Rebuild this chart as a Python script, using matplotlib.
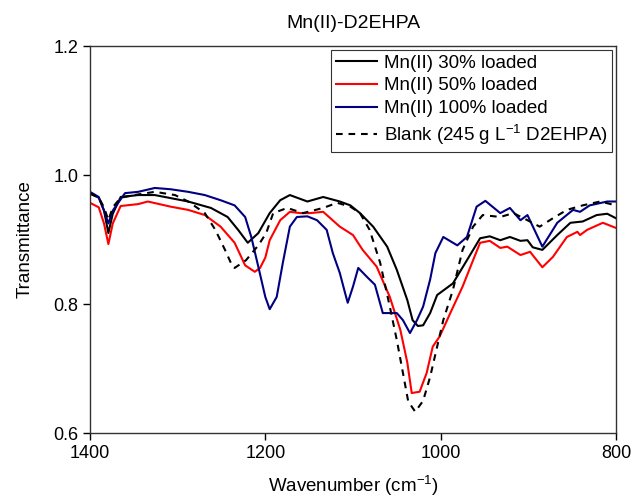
import numpy as np
import matplotlib
matplotlib.use("Agg")
import matplotlib.pyplot as plt

plt.rcParams['font.family'] = ['Liberation Sans', 'DejaVu Sans']
plt.rcParams['mathtext.default'] = 'regular'

# === Spectra (wavenumber in cm-1, transmittance) ===
wn_30 = [1400, 1390, 1384, 1379, 1374, 1365, 1345, 1326, 1288, 1262, 1243, 1231, 1220,
         1208, 1195, 1183, 1172, 1152, 1134, 1115, 1103, 1092, 1077, 1061, 1050, 1038,
         1032, 1026, 1020, 1012, 1004, 986, 970, 955, 944, 932, 921, 909, 901, 895, 884,
         867, 852, 838, 822, 810, 800]
tr_30 = [0.971, 0.965, 0.945, 0.910, 0.940, 0.966, 0.969, 0.969, 0.959, 0.949, 0.935, 0.915, 0.895,
         0.910, 0.941, 0.961, 0.969, 0.959, 0.966, 0.959, 0.953, 0.941, 0.920, 0.889, 0.853, 0.806,
         0.775, 0.766, 0.767, 0.786, 0.814, 0.832, 0.868, 0.902, 0.905, 0.899, 0.904, 0.898, 0.899, 0.888, 0.884,
         0.907, 0.926, 0.928, 0.938, 0.940, 0.933]

wn_50 = [1400, 1390, 1384, 1379, 1374, 1365, 1345, 1334, 1308, 1288, 1269, 1251, 1235, 1223,
         1212, 1206, 1200, 1195, 1183, 1172, 1160, 1149, 1134, 1115, 1100, 1089, 1073, 1058,
         1046, 1038, 1033, 1024, 1016, 1009, 1001, 989, 975, 963, 955, 944, 932, 924, 909,
         898, 884, 872, 856, 844, 841, 833, 815, 800]
tr_50 = [0.957, 0.950, 0.925, 0.893, 0.925, 0.952, 0.955, 0.959, 0.951, 0.946, 0.938, 0.920, 0.895, 0.860,
         0.850, 0.856, 0.872, 0.899, 0.930, 0.943, 0.941, 0.941, 0.943, 0.920, 0.907, 0.884, 0.858, 0.811,
         0.760, 0.709, 0.662, 0.664, 0.693, 0.734, 0.750, 0.786, 0.827, 0.868, 0.895, 0.898, 0.887, 0.889, 0.876,
         0.881, 0.857, 0.873, 0.904, 0.912, 0.907, 0.915, 0.926, 0.918]

wn_100 = [1400, 1390, 1384, 1379, 1374, 1360, 1345, 1326, 1308, 1288, 1269, 1251, 1235, 1223,
          1216, 1208, 1200, 1195, 1187, 1180, 1172, 1164, 1152, 1141, 1130, 1123, 1115, 1109,
          1106, 1100, 1094, 1084, 1075, 1066, 1050, 1043, 1035, 1027, 1020, 1012, 1006, 997,
          981, 970, 959, 949, 932, 921, 909, 901, 884, 867, 849, 841, 830, 810, 800]
tr_100 = [0.974, 0.966, 0.945, 0.925, 0.945, 0.972, 0.974, 0.980, 0.978, 0.974, 0.969, 0.961, 0.953, 0.935,
          0.904, 0.858, 0.811, 0.792, 0.811, 0.864, 0.920, 0.935, 0.936, 0.930, 0.915, 0.879, 0.848, 0.817,
          0.802, 0.827, 0.856, 0.842, 0.830, 0.786, 0.786, 0.775, 0.755, 0.775, 0.796, 0.838, 0.879, 0.904,
          0.891, 0.904, 0.951, 0.960, 0.941, 0.949, 0.930, 0.938, 0.889, 0.926, 0.946, 0.943, 0.953, 0.959, 0.959]

wn_blank = [1400, 1390, 1384, 1379, 1374, 1365, 1345, 1326, 1303, 1288, 1269, 1257, 1246, 1238,
            1235, 1222, 1208, 1199, 1191, 1175, 1157, 1134, 1118, 1103, 1092, 1081, 1069, 1058,
            1050, 1043, 1037, 1029, 1020, 1012, 1004, 997, 986, 975, 963, 952, 932, 917, 901,
            887, 872, 856, 838, 818, 800]
tr_blank = [0.972, 0.965, 0.950, 0.930, 0.950, 0.965, 0.970, 0.974, 0.969, 0.959, 0.941, 0.915, 0.884, 0.860,
            0.856, 0.868, 0.891, 0.910, 0.941, 0.949, 0.941, 0.949, 0.957, 0.951, 0.941, 0.915, 0.864, 0.796,
            0.744, 0.693, 0.649, 0.633, 0.650, 0.687, 0.734, 0.775, 0.822, 0.884, 0.920, 0.938, 0.935, 0.941, 0.930,
            0.920, 0.933, 0.946, 0.953, 0.959, 0.953]

labels = ["Mn(II) 30% loaded", "Mn(II) 50% loaded", "Mn(II) 100% loaded",
          "Blank (245 g L$^{-1}$ D2EHPA)"]

# === Plot ===
fig = plt.figure(figsize=(6.39, 5.01), dpi=100)
ax = fig.add_axes([0.1408, 0.1357, 0.8232, 0.7723])

ax.plot(wn_30, tr_30, color='black', lw=1.5, label=labels[0])
ax.plot(wn_50, tr_50, color='red', lw=1.5, label=labels[1])
ax.plot(wn_100, tr_100, color='#000080', lw=1.5, label=labels[2])
ax.plot(wn_blank, tr_blank, color='black', lw=1.5, ls=(0, (3.2, 2.8)), label=labels[3])

ax.set_xlim(1400, 800)
ax.set_ylim(0.6, 1.2)
ax.set_xticks([1400, 1200, 1000, 800])
ax.set_yticks([0.6, 0.8, 1.0, 1.2])
ax.yaxis.set_major_formatter(matplotlib.ticker.FormatStrFormatter('%.1f'))
ax.tick_params(direction='out', length=5, width=1, labelsize=13, top=False, right=False)
for sp in ax.spines.values():
    sp.set_linewidth(1.0)
    sp.set_color('#333333')

ax.set_xlabel("Wavenumber (cm$^{-1}$)", fontsize=13.5, labelpad=9)
ax.set_ylabel("Transmittance", fontsize=13.5, labelpad=14)
ax.set_title("Mn(II)-D2EHPA", fontsize=14, pad=13)

leg = ax.legend(loc='upper right', fontsize=13.5, frameon=True, fancybox=False,
                edgecolor='#333333', framealpha=1, borderaxespad=0.2,
                handlelength=2.2, labelspacing=0.3, borderpad=0.25, handletextpad=0.36)
leg.get_frame().set_linewidth(0.8)

fig.savefig("out.png", dpi=100)
